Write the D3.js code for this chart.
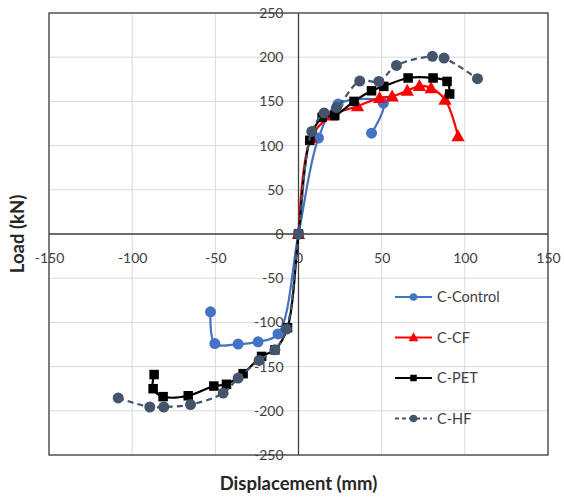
<!DOCTYPE html>
<html>
<head>
<meta charset="utf-8">
<script src="https://cdn.jsdelivr.net/npm/d3@7"></script>
<style>
  html, body { margin: 0; padding: 0; background: #fff; }
  svg { display: block; }
</style>
</head>
<body>
<svg id="chart" width="564" height="499"></svg>
<script>
// Load–displacement curves for four column specimens (mm, kN)
const seriesNames = ["C-Control", "C-CF", "C-PET", "C-HF"];

const controlDisp = [-52.9, -50.3, -36.3, -24.3, -12.3, 0, 12.0, 23.8, 51.0, 43.9];
const controlLoad = [-88, -124, -124.5, -122, -113, 0, 108.5, 147, 148, 114];

const cfDisp = [0, 7.5, 20, 35.5, 48.7, 56.3, 65.4, 72.7, 79.7, 88.1, 95.9];
const cfLoad = [0, 109, 134, 144.5, 154, 155.7, 162, 167.4, 165, 152, 110.7];

const petDisp = [-86.8, -87.4, -81.4, -66.3, -50.9, -43.3, -33.3, -22.2, -14.2, -6.6, 0,
                 6.8, 14.2, 21.8, 33.4, 43.9, 51.3, 65.9, 80.9, 89.3, 90.9];
const petLoad = [-159, -175, -184, -183, -172, -170, -158, -138.5, -131, -106, 0,
                 106, 132, 134, 150, 162, 167, 176.5, 176.5, 172.6, 158.4];

const hfDisp = [-108.4, -89.4, -81, -64.9, -45.3, -36.3, -23.7, -14.2, -7.2, 0,
                8, 15.4, 22.8, 36.8, 48.3, 58.9, 80.5, 87.5, 107.6];
const hfLoad = [-185.5, -195.7, -195.7, -193, -180, -163, -143, -131, -107.5, 0,
                116, 137, 143, 173, 172.6, 190.7, 201, 199, 175.7];

const xTicks = [-150, -100, -50, 0, 50, 100, 150];
const yTicks = [-250, -200, -150, -100, -50, 0, 50, 100, 150, 200, 250];

const xTitle = "Displacement (mm)";
const yTitle = "Load (kN)";

// ---- layout & styling ----
const plot = { left: 49, right: 548, top: 13, bottom: 455 };
const font = "Lato, 'Open Sans', sans-serif";
const textColor = "#404040";

const styles = {
  "C-Control": { color: "#4472C4", marker: "circle", dash: null },
  "C-CF":      { color: "#FF0000", marker: "triangle", dash: null },
  "C-PET":     { color: "#000000", marker: "square", dash: null },
  "C-HF":      { color: "#44546A", marker: "circle", dash: "6,4" }
};

const data = [
  { name: "C-Control", pts: d3.zip(controlDisp, controlLoad) },
  { name: "C-CF",      pts: d3.zip(cfDisp, cfLoad) },
  { name: "C-PET",     pts: d3.zip(petDisp, petLoad) },
  { name: "C-HF",      pts: d3.zip(hfDisp, hfLoad) }
];

const svg = d3.select("#chart");

const x = d3.scaleLinear().domain([-150, 150]).range([plot.left, plot.right]);
const y = d3.scaleLinear().domain([-250, 250]).range([plot.bottom, plot.top]);

// gridlines
const grid = svg.append("g").attr("stroke", "#d9d9d9").attr("stroke-width", 1);
grid.selectAll("line.v").data(xTicks).join("line")
  .attr("x1", d => x(d)).attr("x2", d => x(d))
  .attr("y1", plot.top).attr("y2", plot.bottom);
grid.selectAll("line.h").data(yTicks).join("line")
  .attr("y1", d => y(d)).attr("y2", d => y(d))
  .attr("x1", plot.left).attr("x2", plot.right);

// plot frame
svg.append("rect")
  .attr("x", plot.left).attr("y", plot.top)
  .attr("width", plot.right - plot.left).attr("height", plot.bottom - plot.top)
  .attr("fill", "none").attr("stroke", "#404040").attr("stroke-width", 1.3);

// axes crossing at the origin
const xAxis = d3.axisBottom(x).tickValues(xTicks).tickSize(0).tickPadding(19)
  .tickFormat(d3.format("d"));
const yAxis = d3.axisLeft(y).tickValues(yTicks).tickSize(0).tickPadding(15)
  .tickFormat(d3.format("d"));

const gx = svg.append("g").attr("transform", `translate(0,${y(0)})`).call(xAxis);
const gy = svg.append("g").attr("transform", `translate(${x(0)},0)`).call(yAxis);
[gx, gy].forEach(g => {
  g.select(".domain").attr("stroke", "#404040").attr("stroke-width", 1.3);
  g.selectAll("text").attr("font-family", font).attr("font-size", 14)
    .attr("fill", textColor).text(d => d < 0 ? "-" + Math.abs(d) : d);
});
gx.select(".domain").attr("d", `M${plot.left},0H${plot.right}`);
gy.select(".domain").attr("d", `M0,${plot.top}V${plot.bottom}`);

// marker shapes
function drawMarker(sel, type, color, size) {
  if (type === "circle") {
    sel.append("circle").attr("r", size / 2).attr("fill", color);
  } else if (type === "square") {
    sel.append("rect").attr("x", -size / 2).attr("y", -size / 2)
      .attr("width", size).attr("height", size).attr("fill", color);
  } else {
    const h = size;
    sel.append("path")
      .attr("d", `M0,${-h * 0.58}L${h * 0.55},${h * 0.42}L${-h * 0.55},${h * 0.42}Z`)
      .attr("fill", color);
  }
}

const line = d3.line()
  .x(d => x(d[0])).y(d => y(d[1]))
  .curve(d3.curveCatmullRom.alpha(0.5));

const markerSize = { circle: 11, square: 9.5, triangle: 12 };

data.forEach(s => {
  const st = styles[s.name];
  const g = svg.append("g");
  g.append("path").attr("d", line(s.pts))
    .attr("fill", "none").attr("stroke", st.color).attr("stroke-width", 2.2)
    .attr("stroke-dasharray", st.dash);
  g.selectAll("g.m").data(s.pts).join("g")
    .attr("transform", d => `translate(${x(d[0])},${y(d[1])})`)
    .each(function () { drawMarker(d3.select(this), st.marker, st.color, markerSize[st.marker]); });
});

// legend
const legend = svg.append("g").attr("transform", "translate(395,297)");
const legendSize = { circle: 7.5, square: 6.5, triangle: 9 };
seriesNames.forEach((name, i) => {
  const st = styles[name];
  const row = legend.append("g").attr("transform", `translate(0,${i * 40.5})`);
  row.append("line").attr("x1", 0).attr("x2", 37).attr("y1", 0).attr("y2", 0)
    .attr("stroke", st.color).attr("stroke-width", 2.2)
    .attr("stroke-dasharray", st.dash ? "4,3" : null);
  const m = row.append("g").attr("transform", "translate(18.5,0)");
  drawMarker(m, st.marker, st.color, legendSize[st.marker]);
  row.append("text").attr("x", 42).attr("y", 0).attr("dy", "0.35em")
    .attr("font-family", font).attr("font-size", 14.5).attr("fill", textColor)
    .text(name);
});

// axis titles
svg.append("text")
  .attr("x", (plot.left + plot.right) / 2).attr("y", 490)
  .attr("text-anchor", "middle")
  .attr("font-family", font).attr("font-size", 18.5).attr("font-weight", "bold")
  .attr("fill", "#262626").text(xTitle);

svg.append("text")
  .attr("transform", `translate(24,${y(0)}) rotate(-90)`)
  .attr("text-anchor", "middle")
  .attr("font-family", font).attr("font-size", 18.5).attr("font-weight", "bold")
  .attr("fill", "#262626").text(yTitle);
</script>
</body>
</html>
